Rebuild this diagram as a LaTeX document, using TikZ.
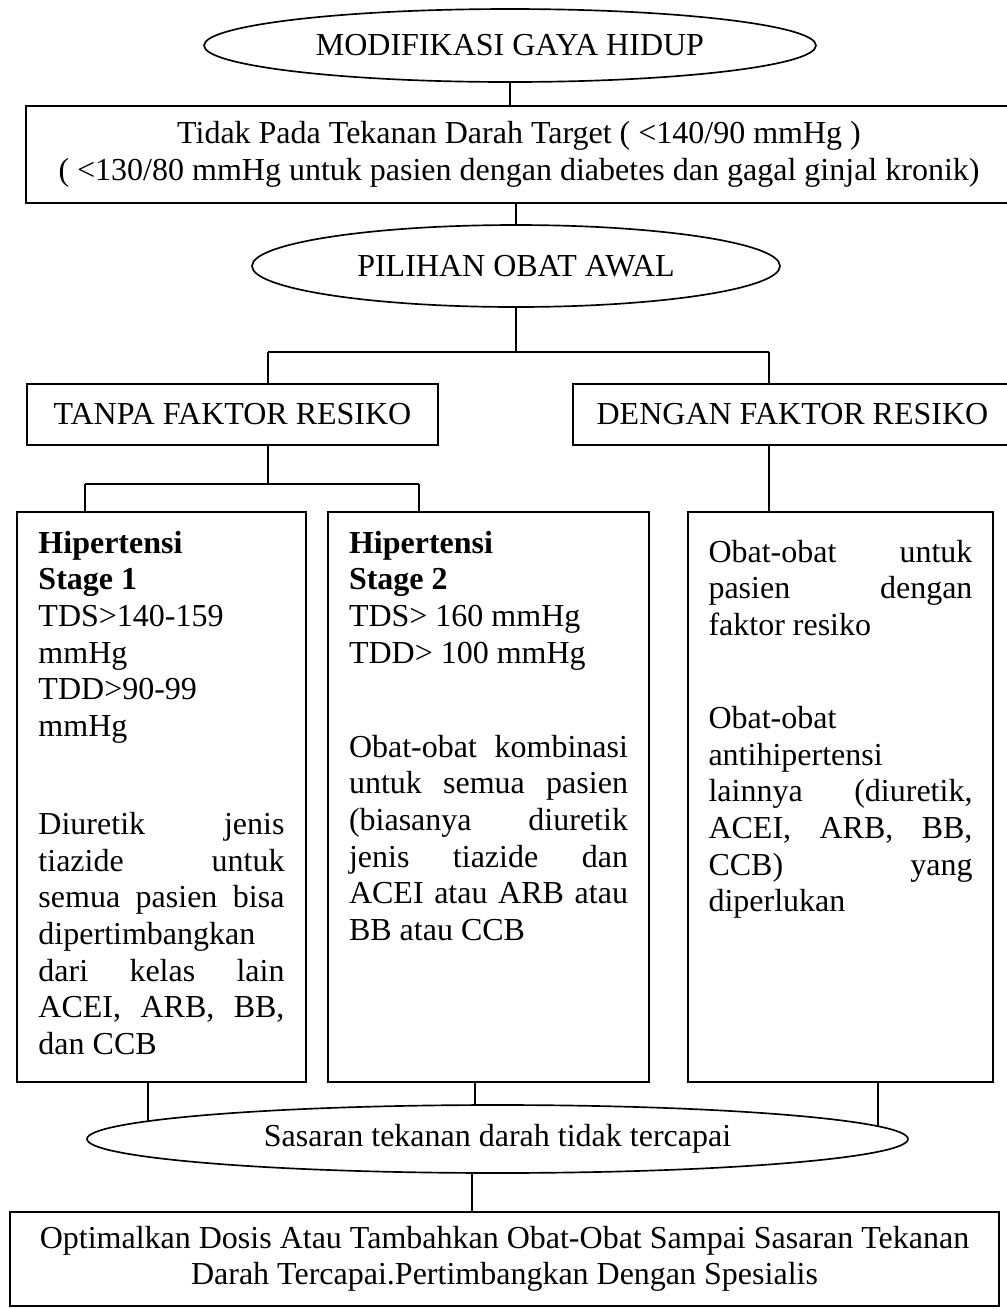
\documentclass[tikz,border=0pt]{standalone}
\usepackage{fontspec}
\setmainfont{Liberation Serif}
\usetikzlibrary{shapes.geometric}
\newcommand{\jl}[1]{\makebox[\linewidth][s]{#1}}
\tikzset{
    oval-node/.style = {draw, ellipse, line width=0.5pt, inner sep=0pt},
    flat-box/.style = {draw, rectangle, line width=0.5pt, inner sep=0pt, align=center},
    column-box/.style = {draw, rectangle, line width=0.5pt, inner sep=0pt, minimum height=171pt},
    link/.style = {line width=0.5pt},
}

\begin{document}
\begin{tikzpicture}[x=0.3pt, y=-0.3pt, font={\fontsize{9.6}{11}\selectfont}]
\useasboundingbox (0,0) rectangle (1007,1309);
\node[oval-node, minimum width=183.6pt, minimum height=21.9pt] (lifestyle) at (510,45.5) {MODIFIKASI GAYA HIDUP};
\node[flat-box, minimum width=295.8pt, minimum height=29.1pt] (target) at (519,154.5) {Tidak Pada Tekanan Darah Target ( <140/90 mmHg )\\( <130/80 mmHg untuk pasien dengan diabetes dan gagal ginjal kronik)};
\node[oval-node, minimum width=158.4pt, minimum height=24.6pt] (choice) at (516,266) {PILIHAN OBAT AWAL};
\node[flat-box, minimum width=123.3pt, minimum height=18.3pt] (no-risk) at (232.5,414.5) {TANPA FAKTOR RESIKO};
\node[flat-box, minimum width=131.7pt, minimum height=18.3pt] (with-risk) at (792.5,414.5) {DENGAN FAKTOR RESIKO};

\node[column-box, minimum width=86.7pt] (stage-one) at (161.5,797) {\begin{minipage}[c][159.6pt][t]{73.8pt}
\textbf{Hipertensi}\\
\textbf{Stage 1}\\
TDS>140-159\\
mmHg\\
TDD>90-99\\
mmHg\\[18.4pt]
\jl{Diuretik jenis}\\
\jl{tiazide untuk}\\
\jl{semua pasien bisa}\\
dipertimbangkan\\
\jl{dari kelas lain}\\
\jl{ACEI, ARB, BB,}\\
dan CCB
\end{minipage}};
\node[column-box, minimum width=96.3pt] (stage-two) at (488.5,797) {\begin{minipage}[c][159.6pt][t]{83.7pt}
\textbf{Hipertensi}\\
\textbf{Stage 2}\\
TDS> 160 mmHg\\
TDD> 100 mmHg\\[17.2pt]
\jl{Obat-obat kombinasi}\\
\jl{untuk semua pasien}\\
\jl{(biasanya diuretik}\\
\jl{jenis tiazide dan}\\
\jl{ACEI atau ARB atau}\\
BB atau CCB
\end{minipage}};
\node[column-box, minimum width=91.5pt] (risk-drugs) at (840.5,797) {\begin{minipage}[c][159.6pt][t]{79.2pt}
\vspace*{2.7pt}
\jl{Obat-obat untuk}\\
\jl{pasien dengan}\\
faktor resiko\\[16.9pt]
Obat-obat\\
antihipertensi\\
\jl{lainnya (diuretik,}\\
\jl{ACEI, ARB, BB,}\\
\jl{CCB) yang}\\
diperlukan
\end{minipage}};

\node[oval-node, minimum width=246.3pt, minimum height=20.4pt] (unmet) at (497.5,1139) {Sasaran tekanan darah tidak tercapai};
\node[flat-box, minimum width=296.7pt, minimum height=28.2pt] (advice) at (504.5,1259) {Optimalkan Dosis Atau Tambahkan Obat-Obat Sampai Sasaran Tekanan\\Darah Tercapai.Pertimbangkan Dengan Spesialis};

\coordinate (fork-l) at (268,352);
\coordinate (fork-r) at (769,352);
\coordinate (fork2-l) at (85,484);
\coordinate (fork2-r) at (419,484);

\draw[link] (lifestyle.south) -- (lifestyle.south |- target.north);
\draw[link] (choice.north |- target.south) -- (choice.north);
\draw[link] (choice.south) -- (choice.south |- fork-l);
\draw[link] (fork-l) -- (fork-r);
\draw[link] (fork-l) -- (fork-l |- no-risk.north);
\draw[link] (fork-r) -- (fork-r |- with-risk.north);
\draw[link] (no-risk.south -| fork-l) -- (fork-l |- fork2-l);
\draw[link] (fork2-l) -- (fork2-r);
\draw[link] (fork2-l) -- (fork2-l |- stage-one.north);
\draw[link] (fork2-r) -- (fork2-r |- stage-two.north);
\draw[link] (with-risk.south -| fork-r) -- (fork-r |- risk-drugs.north);
\draw[link] (unmet.177.3 |- stage-one.south) -- (unmet.177.3);
\draw[link] (unmet.123.5 |- stage-two.south) -- (unmet.123.5);
\draw[link] (unmet.2.7 |- risk-drugs.south) -- (unmet.2.7);
\draw[link] (unmet.234.1) -- (unmet.234.1 |- advice.north);
\end{tikzpicture}
\end{document}
